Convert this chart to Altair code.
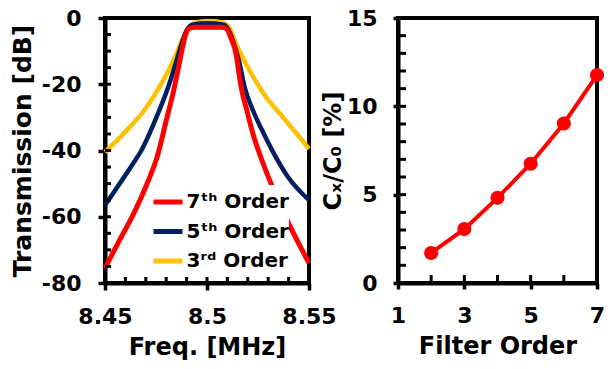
import altair as alt
import pandas as pd

FONT = "DejaVu Sans"

# ---------------- Left panel: transmission vs frequency ----------------
order_labels = ["7ᵗʰ Order", "5ᵗʰ Order", "3ʳᵈ Order"]
order_colors = ["#FF0000", "#002060", "#FFC000"]

freq_7 = [8.4500, 8.4572, 8.4637, 8.4703, 8.4760, 8.4800, 8.4838, 8.4860, 8.4878,
          8.4893, 8.4912, 8.4940, 8.5000, 8.5075, 8.5097, 8.5117, 8.5143, 8.5155,
          8.5168, 8.5198, 8.5228, 8.5252, 8.5324, 8.5381, 8.5500]
db_7 = [-75.5, -67.0, -59.5, -50.5, -41.0, -31.0, -21.5, -15.0, -9.5,
        -5.5, -3.2, -2.8, -2.8, -2.8, -3.3, -6.0, -11.0, -16.0,
        -21.0, -28.5, -35.5, -40.0, -51.5, -59.5, -74.0]

freq_5 = [8.4500, 8.4572, 8.4637, 8.4678, 8.4752, 8.4809, 8.4850, 8.4880, 8.4902,
          8.4930, 8.5000, 8.5080, 8.5105, 8.5128, 8.5157, 8.5185, 8.5226, 8.5275,
          8.5324, 8.5397, 8.5500]
db_5 = [-56.5, -50.0, -44.0, -40.0, -30.0, -21.0, -13.0, -7.0, -3.5,
        -2.0, -1.6, -2.0, -3.5, -7.0, -13.0, -21.0, -28.0, -34.5,
        -40.5, -48.0, -55.0]

freq_3 = [8.4500, 8.4605, 8.4703, 8.4784, 8.4842, 8.4882, 8.4910, 8.4950, 8.5010,
          8.5070, 8.5110, 8.5144, 8.5210, 8.5291, 8.5373, 8.5454, 8.5500]
db_3 = [-40.5, -34.0, -27.0, -19.0, -12.0, -6.0, -3.0, -1.3, -0.9,
        -1.3, -3.0, -8.0, -16.0, -24.0, -30.0, -36.0, -39.5]

freq_ticks = [8.45, 8.5, 8.55]
freq_minor = [8.45, 8.46, 8.47, 8.48, 8.49, 8.5, 8.51, 8.52, 8.53, 8.54, 8.55]
db_ticks = [0, -20, -40, -60, -80]
db_minor = [0, -5, -10, -15, -20, -25, -30, -35, -40, -45, -50, -55, -60, -65, -70, -75, -80]

# ---------------- Right panel: Cx/C0 vs filter order ----------------
filter_order = [2, 3, 4, 5, 6, 7]
cx_ratio = [1.70, 3.05, 4.82, 6.75, 9.03, 11.77]
order_ticks = [1, 3, 5, 7]
order_minor = [1, 2, 3, 4, 5, 6, 7]
ratio_ticks = [0, 5, 10, 15]
ratio_minor = [0, 1, 2, 3, 4, 5, 6, 7, 8, 9, 10, 11, 12, 13, 14, 15]

W_L, W_R, H = 204, 199, 265

xs_l = alt.Scale(domain=[8.45, 8.55], nice=False, zero=False)
ys_l = alt.Scale(domain=[-80, 0], nice=False, zero=False)
color_scale = alt.Scale(domain=order_labels, range=order_colors)

x_axis_l = alt.Axis(values=freq_ticks, format="~g", title="Freq. [MHz]",
                    labelPadding=16, titlePadding=8, tickSize=7)
y_axis_l = alt.Axis(values=db_ticks, labelExpr="datum.value + ''",
                    title="Transmission [dB]", titleFontSize=25,
                    labelPadding=17, titlePadding=6, tickSize=7)
legend = alt.Legend(title=None, orient="none", legendX=46, legendY=167,
                    fillColor="white", padding=0, symbolType="stroke",
                    symbolSize=841, symbolStrokeWidth=5, labelFont=FONT,
                    labelFontSize=20, labelFontWeight="bold", labelColor="black",
                    rowPadding=2.5, labelOffset=1.5, zindex=1)


def series(freqs, dbs, label, width):
    df = pd.DataFrame({"f": freqs, "db": dbs, "order": label})
    return alt.Chart(df).mark_line(strokeWidth=width, interpolate="monotone").encode(
        x=alt.X("f:Q", scale=xs_l, axis=x_axis_l),
        y=alt.Y("db:Q", scale=ys_l, axis=y_axis_l),
        color=alt.Color("order:N", scale=color_scale, legend=legend),
    )


def y_inner_ticks(vals, scale, axis, length):
    return alt.Chart(pd.DataFrame({"v": vals})).mark_rule(color="black", strokeWidth=3).encode(
        y=alt.Y("v:Q", scale=scale, axis=axis), x=alt.value(0), x2=alt.value(length))


def x_inner_ticks(vals, scale, axis, length):
    return alt.Chart(pd.DataFrame({"v": vals})).mark_rule(color="black", strokeWidth=3).encode(
        x=alt.X("v:Q", scale=scale, axis=axis), y=alt.value(H), y2=alt.value(H - length))


left = alt.layer(
    series(freq_3, db_3, order_labels[2], 4.5),
    series(freq_5, db_5, order_labels[1], 4.5),
    series(freq_7, db_7, order_labels[0], 5),
    y_inner_ticks(db_minor, ys_l, y_axis_l, 6),
    x_inner_ticks(freq_minor, xs_l, x_axis_l, 6),
).properties(width=W_L, height=H)

xs_r = alt.Scale(domain=[1, 7], nice=False, zero=False)
ys_r = alt.Scale(domain=[0, 15], nice=False, zero=False)
right_df = pd.DataFrame({"order": filter_order, "ratio": cx_ratio})
x_axis_r = alt.Axis(values=order_ticks, title="Filter Order", labelPadding=16,
                    titlePadding=8, tickSize=6)
y_axis_r = alt.Axis(values=ratio_ticks, title="Cₓ/C₀ [%]", labelPadding=16,
                    titlePadding=1, tickSize=5)
base_r = alt.Chart(right_df).encode(
    x=alt.X("order:Q", scale=xs_r, axis=x_axis_r),
    y=alt.Y("ratio:Q", scale=ys_r, axis=y_axis_r),
)
right = alt.layer(
    base_r.mark_line(color="#FF0000", strokeWidth=4),
    base_r.mark_circle(color="#FF0000", size=200, opacity=1),
    y_inner_ticks(ratio_minor, ys_r, y_axis_r, 8),
    x_inner_ticks(order_minor, xs_r, x_axis_r, 8),
).properties(width=W_R, height=H)

chart = alt.hconcat(left, right, spacing=89, bounds="flush").properties(
    autosize=alt.AutoSizeParams(type="none"),
    padding={"left": 97, "top": 10, "right": 499, "bottom": 343},
).configure_view(
    stroke="black", strokeWidth=4
).configure_axis(
    labelFont=FONT, labelFontSize=22, labelFontWeight="bold", labelColor="black",
    titleFont=FONT, titleFontSize=24, titleFontWeight="bold", titleColor="black",
    domainColor="black", domainWidth=4, tickColor="black", tickWidth=3.5,
    grid=False, labelFlush=False,
)

chart.save("out.html", embed_options={"renderer": "svg", "actions": False})
